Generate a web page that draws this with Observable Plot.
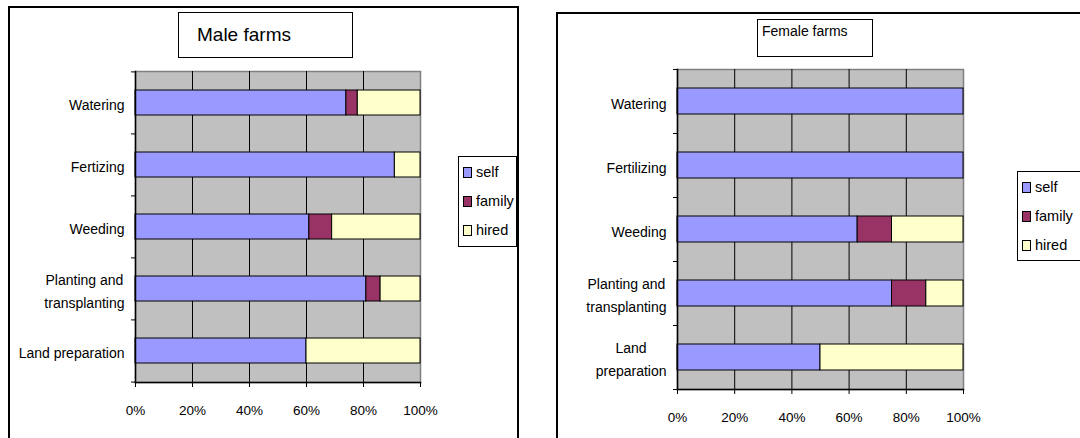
<!DOCTYPE html>
<html><head><meta charset="utf-8">
<script src="https://cdn.jsdelivr.net/npm/d3@7"></script>
<script src="https://cdn.jsdelivr.net/npm/@observablehq/plot@0.6"></script>
<style>
html,body{margin:0;padding:0;background:#fff;}
body{width:1080px;height:438px;overflow:hidden;position:relative;font-family:"Liberation Sans",Arial,sans-serif;color:#000;}
.panel{position:absolute;border:2px solid #000;box-sizing:border-box;background:#fff;}
.title{position:absolute;border:1.5px solid #000;box-sizing:border-box;background:#fff;white-space:nowrap;}
.legend{position:absolute;border:1px solid #000;box-sizing:border-box;background:#fff;white-space:nowrap;font-size:14.5px;}
.legend .item{position:absolute;left:4px;height:16px;line-height:16px;}
.legend .sw{display:inline-block;width:7px;height:9px;border:1px solid #000;vertical-align:-1px;margin-right:4px;}
.chart{position:absolute;top:0;}
</style></head>
<body>
<div class="panel" style="left:8px;top:6px;width:511px;height:460px"></div>
<div class="panel" style="left:556px;top:12px;width:560px;height:460px"></div>
<div id="c1" class="chart" style="left:0px"></div>
<div id="c2" class="chart" style="left:540px"></div>
<div class="title" style="left:178px;top:12px;width:175px;height:46px;font-size:19px;"><span style="position:absolute;left:18px;top:11px">Male farms</span></div>
<div class="title" style="left:757px;top:19px;width:116px;height:38px;font-size:14px;"><span style="position:absolute;left:4px;top:3px">Female farms</span></div>
<div id="lg1" class="legend" style="left:458px;top:156px;width:59px;height:91px"></div>
<div id="lg2" class="legend" style="left:1017px;top:171px;width:80px;height:90px"></div>
<script>
// ---- data ----
const maleTasks = ["Watering", "Fertizing", "Weeding", "Planting and\ntransplanting", "Land preparation"];
const femaleTasks = ["Watering", "Fertilizing", "Weeding", "Planting and\ntransplanting", "Land\npreparation"];
const sources = ["self", "family", "hired"];
const sourceColors = ["#9999FF", "#993366", "#FFFFCC"];
const maleSelf = [74, 91, 61, 81, 60];
const maleFamily = [4, 0, 8, 5, 0];
const maleHired = [22, 9, 31, 14, 40];
const femaleSelf = [100, 100, 63, 75, 50];
const femaleFamily = [0, 0, 12, 12, 0];
const femaleHired = [0, 0, 25, 13, 50];
const xTicks = [0, 20, 40, 60, 80, 100];
const gridTicks = [20, 40, 60, 80];

const FONT = "Liberation Sans, Arial, sans-serif";
const ctx = document.createElement("canvas").getContext("2d");
function textW(s, size) { ctx.font = size + "px " + FONT; return ctx.measureText(s).width; }

function makeChart(tasks, series, m) {
  const rows = [];
  tasks.forEach((t, i) => sources.forEach((s, j) => {
    const v = series[j][i];
    if (v > 0) rows.push({task: t, source: s, value: v});
  }));
  const W = 540, H = 438;
  const plotW = W - m.left - m.right, plotH = H - m.top - m.bottom;
  const step = plotH / tasks.length;
  const tickLen = 4 * 100 / plotW;
  const labelSize = 14, gap = 11;
  const labelMarks = tasks.map(t => {
    const w = d3.max(t.split("\n"), l => textW(l, labelSize));
    return Plot.text([t], {x: () => 0, y: d => d, text: d => d, textAnchor: "middle",
      dx: -(gap + w / 2), lineHeight: 1.65, fontSize: labelSize, fill: "#000"});
  });
  return Plot.plot({
    width: W, height: H,
    marginLeft: m.left, marginRight: m.right, marginTop: m.top, marginBottom: m.bottom,
    style: {fontFamily: FONT, background: "transparent", color: "#000", overflow: "visible"},
    x: {domain: [0, 100], axis: null, label: null},
    y: {type: "band", domain: tasks, paddingInner: 0.6, paddingOuter: 0.3, axis: null, label: null},
    color: {domain: sources, range: sourceColors},
    marks: [
      Plot.frame({fill: "#C0C0C0", stroke: "#808080", strokeWidth: 1.5}),
      Plot.ruleX(gridTicks, {stroke: "#000", strokeWidth: 1}),
      Plot.barX(rows, {x: "value", y: "task", fill: "source", stroke: "#000", strokeWidth: 1, order: sources}),
      Plot.frame({anchor: "left", stroke: "#000", strokeWidth: 1.5}),
      Plot.frame({anchor: "bottom", stroke: "#000", strokeWidth: 1.5}),
      Plot.ruleY(tasks, {y: d => d, dy: -step / 2, x1: -tickLen, x2: 0, stroke: "#000"}),
      Plot.ruleY(tasks.slice(-1), {y: d => d, dy: step / 2, x1: -tickLen, x2: 0, stroke: "#000"}),
      Plot.axisX(xTicks, {tickFormat: d => d + "%", label: null, tickSize: 5, tickPadding: 18, fontSize: 13.5, stroke: "#000", fill: "#000"}),
      ...labelMarks
    ]
  });
}

document.getElementById("c1").append(makeChart(maleTasks, [maleSelf, maleFamily, maleHired], {left: 135, right: 120, top: 71, bottom: 56}));
document.getElementById("c2").append(makeChart(femaleTasks, [femaleSelf, femaleFamily, femaleHired], {left: 137, right: 117, top: 69, bottom: 49}));

function legend(id, top0, spacing) {
  const el = document.getElementById(id);
  sources.forEach((s, i) => {
    const d = document.createElement("div");
    d.className = "item";
    d.style.top = (top0 + i * spacing) + "px";
    d.innerHTML = `<span class="sw" style="background:${sourceColors[i]}"></span>${s}`;
    el.append(d);
  });
}
legend("lg1", 7, 29);
legend("lg2", 7, 29);
</script>
</body></html>
